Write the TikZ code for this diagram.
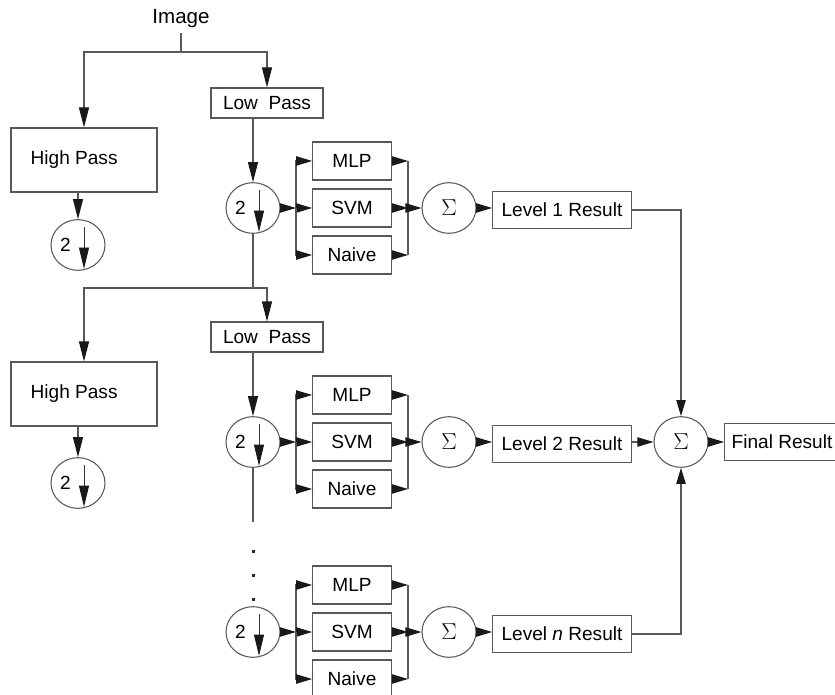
\documentclass[tikz,border=0pt]{standalone}
\usepackage{fontspec}
\setmainfont{Liberation Sans}
\usetikzlibrary{arrows.meta,shapes.geometric,calc}

\begin{document}
\begin{tikzpicture}[x=0.75pt,y=-0.75pt]
% Styles for boxes, circles and arrows
\tikzstyle{box}=[draw=black!65,line width=0.8pt,inner sep=0pt,font=\fontsize{14.3}{17}\selectfont]
\tikzstyle{low node}=[box,minimum width=84pt,minimum height=22.5pt]
\tikzstyle{high node}=[box,minimum width=109.5pt,minimum height=48pt]
\tikzstyle{cls node}=[box,minimum width=59pt,minimum height=28.5pt]
\tikzstyle{res node}=[box,minimum width=104pt,minimum height=28pt]
\tikzset{
ds node/.style={ellipse,box,minimum width=40.5pt,minimum height=38pt},
sum node/.style={ellipse,box,minimum width=40.5pt,minimum height=38pt,font=\fontsize{16}{18}\selectfont},
line/.style={draw=black!65,line width=0.8pt},
arr/.style={line,-{Triangle[length=12pt,width=7pt,color=black!90]}},
big arr/.style={line,-{Triangle[length=15pt,width=7.5pt,color=black!90]}},
in arr/.style={draw=black!80,line width=0.7pt,-{Triangle[length=16pt,width=7.5pt,color=black!90]}}
}
\newcommand{\two}{\makebox[27pt][l]{2}}
\newcommand{\hpass}{\makebox[80pt][l]{High Pass}}
\useasboundingbox (0,0) rectangle (835,695);

\node[font=\fontsize{15.4}{18}\selectfont] (img) at (181,19) {Image};
\coordinate (s0) at (181,52);
\node[low node] (lp1) at (267,103) {Low\ \ Pass};
\node[high node] (hp1) at (84,160) {\hpass};
\node[ds node] (h1) at (78,245) {\two};
\node[ds node] (d1) at (253,208) {\two};

\coordinate (s1) at (253,288);
\node[low node] (lp2) at (267,337) {Low\ \ Pass};
\node[high node] (hp2) at (84,394) {\hpass};
\node[ds node] (h2) at (78,483) {\two};
\node[ds node] (d2) at (253,442) {\two};
\coordinate (e2) at (253,522);

\node[ds node] (d3) at (253,632) {\two};

\draw[line] (img) -- (s0);
\draw[big arr] (s0) -| (hp1);
\draw[big arr] (s0) -| (lp1);
\draw[big arr] (lp1.south -| d1) -- (d1);
\draw[big arr] (hp1.south -| h1) -- (h1);
\draw[line] (d1) -- (s1);
\draw[big arr] (s1) -| (hp2);
\draw[big arr] (s1) -| (lp2);
\draw[big arr] (lp2.south -| d2) -- (d2);
\draw[big arr] (hp2.south -| h2) -- (h2);
\draw[line] (d2) -- (e2);
\foreach \yy in {551,575,599}
  \fill[black!85] (251.5,\yy-1.5) rectangle +(3,3);

% arrow inside each downsampler
\foreach \n in {h1,d1,h2,d2,d3}
  \draw[in arr] ([xshift=4.5pt,yshift=-6pt]\n.north) -- ([xshift=4.5pt,yshift=1.5pt]\n.south);

% classifiers of each level
\foreach \i/\y/\lv in {1/208/1,2/442/2,3/632/\textit{n}}{
  \coordinate (sp\i) at (296,\y);
  \coordinate (mg\i) at (408,\y);
  \node[cls node] (mlp\i) at (352,\y-47) {MLP};
  \node[cls node] (svm\i) at (352,\y) {SVM};
  \node[cls node] (nb\i) at (352,\y+47) {Naive};
  \node[sum node] (sig\i) at (449,\y) {$\Sigma$};
  \node[res node] (r\i) at (562,\y+2) {Level \lv{} Result};
  \draw[arr] (d\i) -- (sp\i);
  \draw[line] (mlp\i.west -| sp\i) -- (nb\i.west -| sp\i);
  \draw[arr] (sp\i) |- (mlp\i);
  \draw[arr] (sp\i) -- (svm\i);
  \draw[arr] (sp\i) |- (nb\i);
  \draw[arr] (mlp\i) -- (mlp\i.east -| mg\i);
  \draw[arr] (svm\i) -- (mg\i);
  \draw[arr] (nb\i) -- (nb\i.east -| mg\i);
  \draw[line] (mlp\i.east -| mg\i) -- (nb\i.east -| mg\i);
  \draw[arr] (mg\i) -- (sig\i);
  \draw[arr] (sig\i) -- (sig\i -| r\i.west);
}

\node[sum node] (fin) at (681,442) {$\Sigma$};
\node[res node,minimum width=86pt] (out) at (782,442) {Final Result};
\draw[arr] (r1) -| (fin);
\draw[arr] (r2.east |- fin) -- (fin);
\draw[arr] (r3) -| (fin);
\draw[arr] (fin) -- (out);
\end{tikzpicture}
\end{document}
